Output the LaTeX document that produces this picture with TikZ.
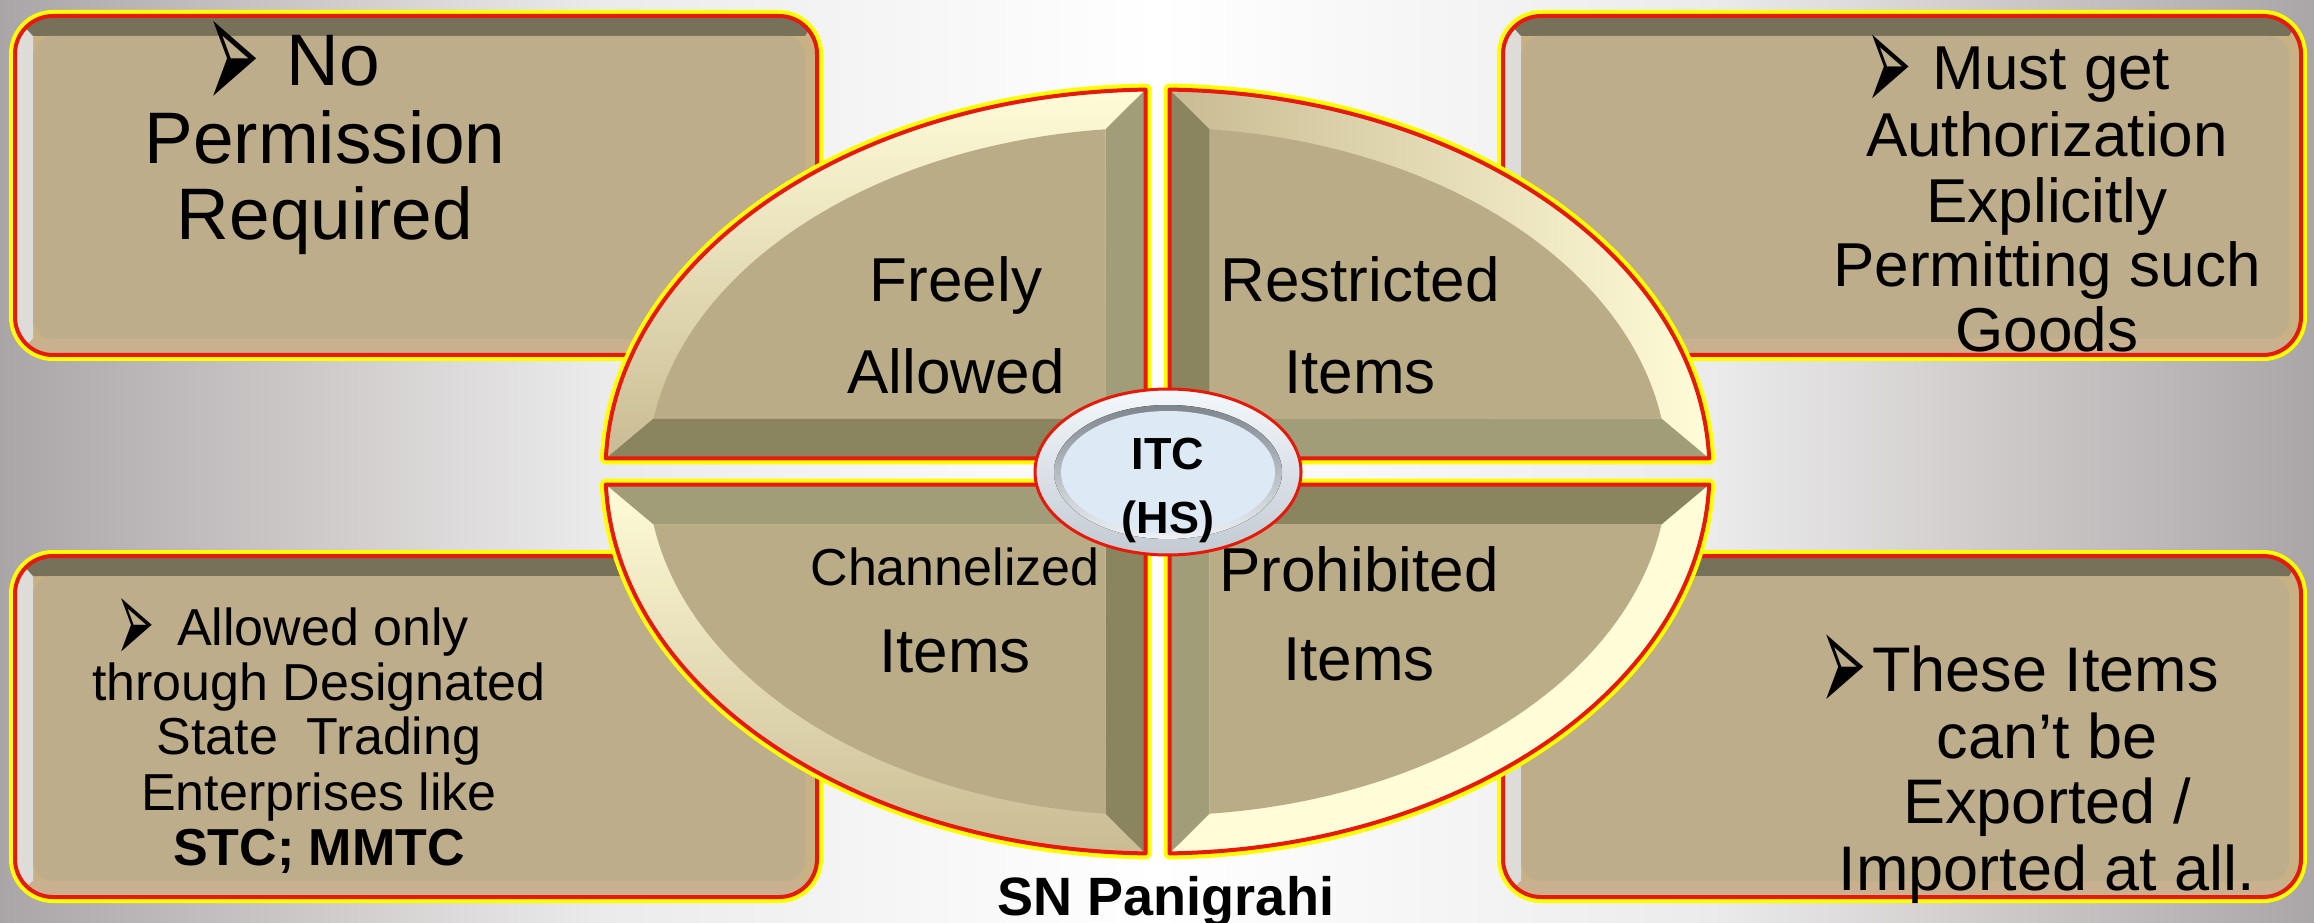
\documentclass[tikz,border=0pt]{standalone}
\usepackage{fontspec}
\setmainfont{Liberation Sans}
\newfontfamily\symfont{DejaVu Sans}
\newcommand{\bul}{\smash{\raisebox{-0.36em}{\resizebox{0.73em}{1.25em}{\symfont\symbol{"27A2}}}}}

\definecolor{bgedge}{HTML}{AAA5A7}
\definecolor{bgmid}{HTML}{CDC8C8}
\definecolor{bglight}{HTML}{EBEBEB}
\definecolor{yel}{HTML}{FFFF00}
\definecolor{redline}{HTML}{E51A0A}
\definecolor{boxtopc}{HTML}{777159}
\definecolor{boxleftc}{HTML}{DEDCD8}
\definecolor{boxbotc}{HTML}{C9B18F}
\definecolor{boxrightc}{HTML}{C8B283}
\definecolor{boxfacec}{HTML}{BEAD8B}
\definecolor{qfacec}{HTML}{BBAC88}
\definecolor{bevlightc}{HTML}{A29D79}
\definecolor{bevdarkc}{HTML}{8B855F}
\definecolor{cream}{HTML}{FFFCD8}
\definecolor{tanc}{HTML}{C9BB93}
\definecolor{hubtop}{HTML}{F4F8FC}
\definecolor{hubbot}{HTML}{C2CAD2}
\definecolor{groovetop}{HTML}{7E858D}
\definecolor{groovebot}{HTML}{EEF2F6}
\definecolor{hubfacec}{HTML}{DDE9F5}

\pgfdeclarehorizontalshading{bgshade}{100bp}{color(0bp)=(bgedge); color(25bp)=(bgedge);
  color(31.5bp)=(bgmid); color(38bp)=(bglight); color(50bp)=(white); color(62bp)=(bglight);
  color(68.5bp)=(bgmid); color(75bp)=(bgedge); color(100bp)=(bgedge)}

\tikzset{
  lbl/.style={anchor=base, inner sep=0pt, font=\fontsize{#1}{#1}\selectfont},
  rimy/.style={draw=yel, line width=12, line join=round},
  rimr/.style={draw=redline, line width=4, line join=round},
  arcTL/.style={top color=cream, bottom color=tanc},
  arcTR/.style={left color=tanc, right color=cream},
  arcBL/.style={top color=cream, bottom color=tanc},
  arcBR/.style={fill=cream},
}

\begin{document}
\begin{tikzpicture}[x=1pt, y=1pt]
  \useasboundingbox (0,0) rectangle (2314,922);
  \fill[shading=bgshade] (0,0) rectangle (2314,922);

  % the four bevelled boxes
  \foreach \xa/\ya/\xb/\yb in {15/567/817/906, 1503/567/2301/906, 15/25/817/366, 1503/25/2301/366} {
    \draw[rimy, rounded corners=38] (\xa,\ya) rectangle (\xb,\yb);
    \begin{scope}
      \clip[rounded corners=38] (\xa,\ya) rectangle (\xb,\yb);
      \fill[boxrightc] (\xa,\ya) rectangle (\xb,\yb);
      \fill[boxleftc] (\xa,\ya) -- (\xa,\yb) -- (\xa+18,\yb-20) -- (\xa+18,\ya+16) -- cycle;
      \fill[boxbotc] (\xa,\ya) -- (\xb,\ya) -- (\xb-12,\ya+16) -- (\xa+18,\ya+16) -- cycle;
      \fill[boxtopc] (\xa,\yb) -- (\xb,\yb) -- (\xb-12,\yb-20) -- (\xa+18,\yb-20) -- cycle;
      \fill[boxfacec, rounded corners=20] (\xa+18,\ya+16) rectangle (\xb-12,\yb-20);
    \end{scope}
    \draw[rimr, rounded corners=38] (\xa,\ya) rectangle (\xb,\yb);
  }

  % the four quadrants of the ellipse
  \foreach \sx/\sy/\vcol/\hcol/\shd in {1/1/bevlightc/bevdarkc/arcTL, -1/1/bevdarkc/bevlightc/arcTR,
      1/-1/bevdarkc/bevlightc/arcBL, -1/-1/bevlightc/bevdarkc/arcBR} {
    \begin{scope}[shift={(1157.5,450.5)}, xscale=\sx, yscale=\sy]
      \draw[rimy] (-12,13) -- (-12,381.91) arc[start angle=91.25, end angle=178.05, x radius=552, y radius=382] -- cycle;
      \fill[\shd] (-12,13) -- (-12,381.91) arc[start angle=91.25, end angle=178.05, x radius=552, y radius=382] -- cycle;
      \fill[\vcol] (-12,13) -- (-12,381.91) -- (-52,342.21) -- (-52,53) -- cycle;
      \fill[\hcol] (-12,13) -- (-52,53) -- (-503.91,53) -- (-551.68,13) -- cycle;
      \fill[qfacec] (-52,53) -- (-52,342.21) arc[start angle=95.85, end angle=171.14, x radius=510, y radius=344] -- cycle;
      \draw[rimr] (-12,13) -- (-12,381.91) arc[start angle=91.25, end angle=178.05, x radius=552, y radius=382] -- cycle;
    \end{scope}
  }

  \node[lbl=62] (fa1) at (956,620) {Freely};
  \node[lbl=62] (fa2) at (956,528) {Allowed};
  \node[lbl=62] (ri1) at (1360,620) {Restricted};
  \node[lbl=62] (ri2) at (1360,528) {Items};
  \node[lbl=52] (ci1) at (955,337) {Channelized};
  \node[lbl=62] (ci2) at (955,250) {Items};
  \node[lbl=62] (pi1) at (1359,331) {Prohibited};
  \node[lbl=62] (pi2) at (1359,242) {Items};

  % hub
  \fill[top color=hubtop, bottom color=hubbot] (1168,450) ellipse [x radius=133, y radius=83];
  \fill[top color=groovetop, bottom color=groovebot] (1168,450) ellipse [x radius=114, y radius=67];
  \fill[hubfacec] (1168,450) ellipse [x radius=107, y radius=61];
  \draw[redline, line width=3] (1168,450) ellipse [x radius=133, y radius=83];
  \node[lbl=45] (itc1) at (1168,452) {\bfseries ITC};
  \node[lbl=45] (itc2) at (1168,389) {\bfseries (HS)};

  % box texts
  \node[lbl=73, anchor=base west] (np1) at (206,836) {\bul\hspace{27pt}No};
  \node[lbl=73] (np2) at (325,758) {Permission};
  \node[lbl=73] (np3) at (325,682) {Required};

  \node[lbl=62, anchor=base west] (ma1) at (1866,832) {\bul\hspace{21pt}Must get};
  \node[lbl=62] (ma2) at (2047,765) {Authorization};
  \node[lbl=62] (ma3) at (2047,699) {Explicitly};
  \node[lbl=62] (ma4) at (2047,635) {Permitting such};
  \node[lbl=62] (ma5) at (2047,570) {Goods};

  \node[lbl=52, anchor=base west] (ao1) at (116,277) {\bul\hspace{23pt}Allowed only};
  \node[lbl=52] (ao2) at (319,222) {through Designated};
  \node[lbl=52] (ao3) at (319,168) {State\ \ Trading};
  \node[lbl=52] (ao4) at (319,112) {Enterprises like};
  \node[lbl=52] (ao5) at (319,57) {\bfseries STC; MMTC};

  \node[lbl=63, anchor=base west] (ti1) at (1820,231) {\bul\hspace{6pt}These Items};
  \node[lbl=63] (ti2) at (2047,164) {can’t be};
  \node[lbl=63] (ti3) at (2047,99) {Exported /};
  \node[lbl=63] (ti4) at (2047,32) {Imported at all.};

  \node[lbl=54] (sn) at (1166,7) {\bfseries SN Panigrahi};
\end{tikzpicture}
\end{document}
